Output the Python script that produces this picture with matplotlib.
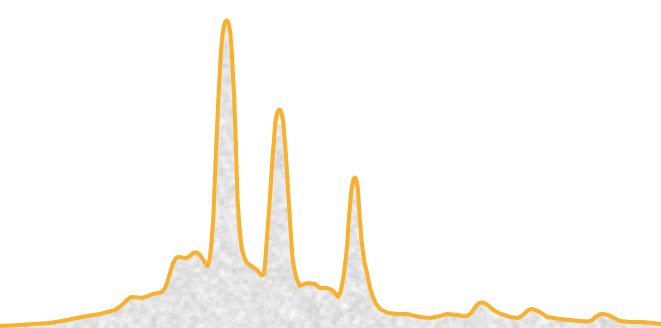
import numpy as np
import matplotlib
matplotlib.use("Agg")
import matplotlib.pyplot as plt

# sample positions along the trace and the height of the curve at each one
pos = [0, 20, 33, 50, 67, 87, 100, 115, 122, 127, 130, 133, 138, 142, 148, 153,
       158, 162, 165, 167, 170, 173, 176, 178, 183, 187, 191, 194, 197, 200,
       204, 207.5, 209.5, 211, 213.3, 215.7, 218.3, 221, 222.7, 224, 225.2,
       226.3, 227.4, 228.6, 230.3, 231.7, 234.3, 236, 237.5, 240, 242, 244.5,
       247, 250, 254, 257, 261, 263.5, 265, 266.5, 268.2, 270.4, 272.7, 275.3,
       276.8, 278, 279.3, 280.6, 281.8, 283.3, 286, 288, 290, 292.5, 294.5,
       297, 300, 304, 308, 315, 320, 327, 332, 335, 338, 340.5, 343, 345, 347,
       349, 351.2, 352.6, 353.8, 355, 356.3, 357.8, 359.5, 361.5, 364, 367,
       370, 373, 376, 380, 388, 398, 407, 420, 430, 440, 447, 458, 465, 468,
       472, 476, 479, 483, 486, 490, 494, 500, 510, 518, 521, 525, 529, 532,
       535, 539, 543, 547, 560, 580, 588, 592, 596, 600, 604, 608, 614, 620,
       630, 642, 653, 661]
level = [2, 3, 4, 5, 8, 12, 14, 18, 23, 28, 30.5, 31, 30.5, 30, 32, 34,
         35, 36, 40, 45, 55, 65, 70, 71, 70.5, 70, 73, 75.5, 75.5, 73,
         67, 62, 68, 80, 110, 170, 228, 278, 295, 302.5, 306,
         307.5, 307.2, 305, 295, 278, 228, 178, 128, 95, 78, 70,
         65, 63, 60, 58, 53, 53, 63, 85, 106, 139, 172, 206,
         213.5, 217, 218.5, 217.5, 214, 206, 172, 139, 106, 70, 58,
         48, 42, 44, 45, 44, 40, 40, 38, 35, 31, 36, 48, 63, 81,
         111, 136, 145, 149.5, 150.5, 148.5, 140, 113, 88, 68, 55,
         40, 31, 24, 19, 15, 14, 14, 11, 10, 12, 14, 13, 11.5, 12.5,
         16, 22, 25, 25.5, 24, 21, 17.5, 14.5, 11, 10, 11.5, 15, 18.5, 19,
         18, 16.5, 14, 11, 9, 7, 6.5, 8, 11.5, 13.8, 14, 13, 10, 7,
         6, 6, 5, 4]

line_color = "#f8b12f"

fig = plt.figure(figsize=(6.61, 3.28), dpi=100)
ax = fig.add_axes([0, 0, 1, 1])
ax.set_xlim(0, 661)
ax.set_ylim(0, 328)
ax.axis("off")

# grainy paper texture for the area under the curve
rng = np.random.default_rng(11)
fine = rng.normal(size=(328, 661))
coarse = rng.normal(size=(83, 166))
coarse = np.kron(coarse, np.ones((4, 4)))[:328, :661]
k = np.ones(2) / 2
fine = np.apply_along_axis(lambda r: np.convolve(r, k, mode="same"), 1, fine)
fine = np.apply_along_axis(lambda c: np.convolve(c, k, mode="same"), 0, fine)
k2 = np.ones(5) / 5
coarse = np.apply_along_axis(lambda r: np.convolve(r, k2, mode="same"), 1, coarse)
coarse = np.apply_along_axis(lambda c: np.convolve(c, k2, mode="same"), 0, coarse)
tex = 0.895 + 0.02 * fine + 0.035 * coarse
tex = np.clip(tex, 0, 1)

area = ax.fill_between(pos, level, 0, facecolor="none", edgecolor="none")
img = ax.imshow(tex, cmap="gray", vmin=0, vmax=1, extent=(0, 661, 0, 328),
                aspect="auto", interpolation="bilinear", zorder=1)
img.set_clip_path(area.get_paths()[0], transform=ax.transData)

ax.plot(pos, level, color=line_color, linewidth=2.9, solid_joinstyle="round",
        solid_capstyle="round", zorder=3)

fig.savefig("out.png", dpi=100)
